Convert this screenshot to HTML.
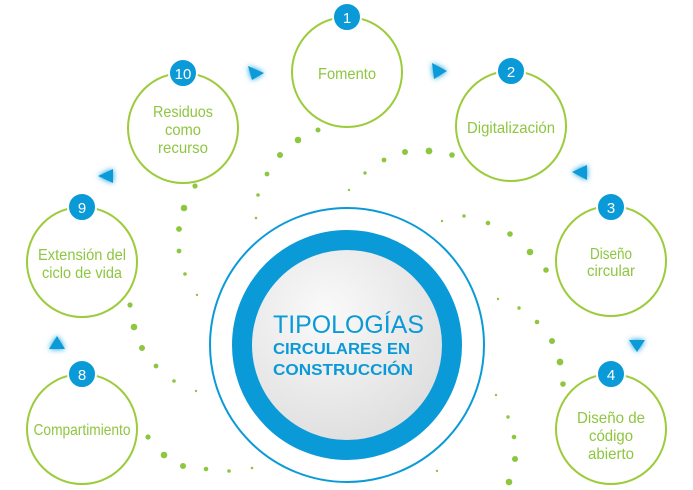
<!DOCTYPE html>
<html><head><meta charset="utf-8"><style>
html,body{margin:0;padding:0;background:#fff}
svg{display:block}
.t{font-family:"Liberation Sans",sans-serif;fill:#8dc63f;font-size:16px;text-anchor:middle}
.n{font-family:"Liberation Sans",sans-serif;fill:#fff;font-size:15px;text-anchor:middle}
</style></head><body>
<svg width="693" height="490" viewBox="0 0 693 490">
<defs>
<radialGradient id="g" cx="40%" cy="35%" r="70%"><stop offset="0" stop-color="#fafafa"/><stop offset="1" stop-color="#dcdcdc"/></radialGradient>
<filter id="glow" x="-100%" y="-100%" width="300%" height="300%"><feGaussianBlur stdDeviation="3" result="b"/><feMerge><feMergeNode in="b"/><feMergeNode in="SourceGraphic"/></feMerge></filter>
</defs>
<g fill="#8dc63f">
<circle cx="318" cy="130" r="2.5"/><circle cx="298" cy="140" r="3.3"/><circle cx="280" cy="155" r="3"/><circle cx="267" cy="174" r="2.4"/><circle cx="258" cy="195" r="1.8"/><circle cx="256" cy="218" r="1.3"/>
<circle cx="349" cy="190" r="1.2"/><circle cx="365" cy="173" r="1.7"/><circle cx="384" cy="160" r="2.4"/><circle cx="405" cy="152" r="3"/><circle cx="429" cy="151" r="3.4"/><circle cx="452" cy="155" r="2.8"/>
<circle cx="442" cy="221" r="1.2"/><circle cx="464" cy="216" r="1.7"/><circle cx="488" cy="223" r="2.3"/><circle cx="510" cy="234" r="2.8"/><circle cx="530" cy="252" r="3.3"/><circle cx="546" cy="270" r="2.8"/>
<circle cx="498" cy="299" r="1.2"/><circle cx="519" cy="308" r="1.7"/><circle cx="537" cy="322" r="2.3"/><circle cx="552" cy="341" r="3"/><circle cx="560" cy="362" r="3.4"/><circle cx="563" cy="384" r="2.8"/>
<circle cx="496" cy="395" r="1.2"/><circle cx="508" cy="417" r="1.7"/><circle cx="514" cy="437" r="2.3"/><circle cx="515" cy="459" r="3"/><circle cx="509" cy="482" r="3.3"/><circle cx="437" cy="471" r="1.2"/>
<circle cx="195" cy="186" r="2.6"/><circle cx="184" cy="208" r="3.3"/><circle cx="179" cy="229" r="2.9"/><circle cx="179" cy="251" r="2.4"/><circle cx="185" cy="274" r="1.8"/><circle cx="197" cy="295" r="1.2"/>
<circle cx="130" cy="305" r="2.6"/><circle cx="134" cy="327" r="3.3"/><circle cx="142" cy="348" r="3"/><circle cx="156" cy="366" r="2.4"/><circle cx="174" cy="381" r="1.8"/><circle cx="196" cy="391" r="1.2"/>
<circle cx="148" cy="437" r="2.6"/><circle cx="164" cy="455" r="3.3"/><circle cx="183" cy="466" r="3"/><circle cx="206" cy="469" r="2.3"/><circle cx="229" cy="471" r="1.8"/><circle cx="252" cy="468" r="1.3"/>
</g>
<circle cx="347" cy="345" r="137" fill="none" stroke="#0b9ad8" stroke-width="2"/>
<circle cx="347" cy="345" r="105" fill="url(#g)" stroke="#0b9ad8" stroke-width="20"/>
<text x="273" y="333" font-family="Liberation Sans,sans-serif" font-size="25" fill="#0b9ad8" textLength="151" lengthAdjust="spacingAndGlyphs">TIPOLOGÍAS</text>
<text x="273" y="354" font-family="Liberation Sans,sans-serif" font-size="16" font-weight="bold" fill="#0b9ad8" textLength="137" lengthAdjust="spacingAndGlyphs">CIRCULARES EN</text>
<text x="273" y="375" font-family="Liberation Sans,sans-serif" font-size="16" font-weight="bold" fill="#0b9ad8" textLength="140" lengthAdjust="spacingAndGlyphs">CONSTRUCCIÓN</text>
<g fill="none" stroke="#9ccb3b" stroke-width="2">
<circle cx="347" cy="72" r="55"/><circle cx="511" cy="126" r="55"/><circle cx="611" cy="261" r="55"/><circle cx="611" cy="429" r="55"/>
<circle cx="82" cy="429" r="55"/><circle cx="82" cy="262" r="55"/><circle cx="183" cy="128" r="55"/>
</g>
<g fill="#0b9ad8" stroke="#fff" stroke-width="2">
<circle cx="347" cy="17" r="14"/><circle cx="511" cy="71" r="14"/><circle cx="611" cy="207" r="14"/><circle cx="611" cy="374" r="14"/>
<circle cx="82" cy="374" r="14"/><circle cx="82" cy="207" r="14"/><circle cx="183" cy="73" r="14"/>
</g>
<text class="n" x="347" y="23">1</text><text class="n" x="511" y="77">2</text><text class="n" x="611" y="213">3</text><text class="n" x="611" y="380">4</text>
<text class="n" x="82" y="380">8</text><text class="n" x="82" y="213">9</text><text class="n" x="183" y="79">10</text>
<g lengthAdjust="spacingAndGlyphs">
<text class="t" x="347" y="79" textLength="58" lengthAdjust="spacingAndGlyphs">Fomento</text>
<text class="t" x="511" y="133" textLength="88" lengthAdjust="spacingAndGlyphs">Digitalización</text>
<text class="t" x="611" y="259" textLength="42" lengthAdjust="spacingAndGlyphs">Diseño</text><text class="t" x="611" y="276" textLength="48" lengthAdjust="spacingAndGlyphs">circular</text>
<text class="t" x="611" y="423" textLength="68" lengthAdjust="spacingAndGlyphs">Diseño de</text><text class="t" x="611" y="441" textLength="44" lengthAdjust="spacingAndGlyphs">código</text><text class="t" x="611" y="459" textLength="46" lengthAdjust="spacingAndGlyphs">abierto</text>
<text class="t" x="82" y="435" textLength="97" lengthAdjust="spacingAndGlyphs">Compartimiento</text>
<text class="t" x="82" y="260" textLength="88" lengthAdjust="spacingAndGlyphs">Extensión del</text><text class="t" x="82" y="278" textLength="80" lengthAdjust="spacingAndGlyphs">ciclo de vida</text>
<text class="t" x="183" y="117" textLength="60" lengthAdjust="spacingAndGlyphs">Residuos</text><text class="t" x="183" y="135" textLength="36" lengthAdjust="spacingAndGlyphs">como</text><text class="t" x="183" y="153" textLength="50" lengthAdjust="spacingAndGlyphs">recurso</text>
</g>
<g fill="#0b9ad8" filter="url(#glow)">
<polygon points="248,66 264,73 252,80"/>
<polygon points="432,63 447,71 434,79"/>
<polygon points="587,165 572,172 587,180"/>
<polygon points="629,340 645,340 637,352"/>
<polygon points="113,169 98,176 113,183"/>
<polygon points="49,349 65,349 57,336"/>
</g>
</svg>
</body></html>
